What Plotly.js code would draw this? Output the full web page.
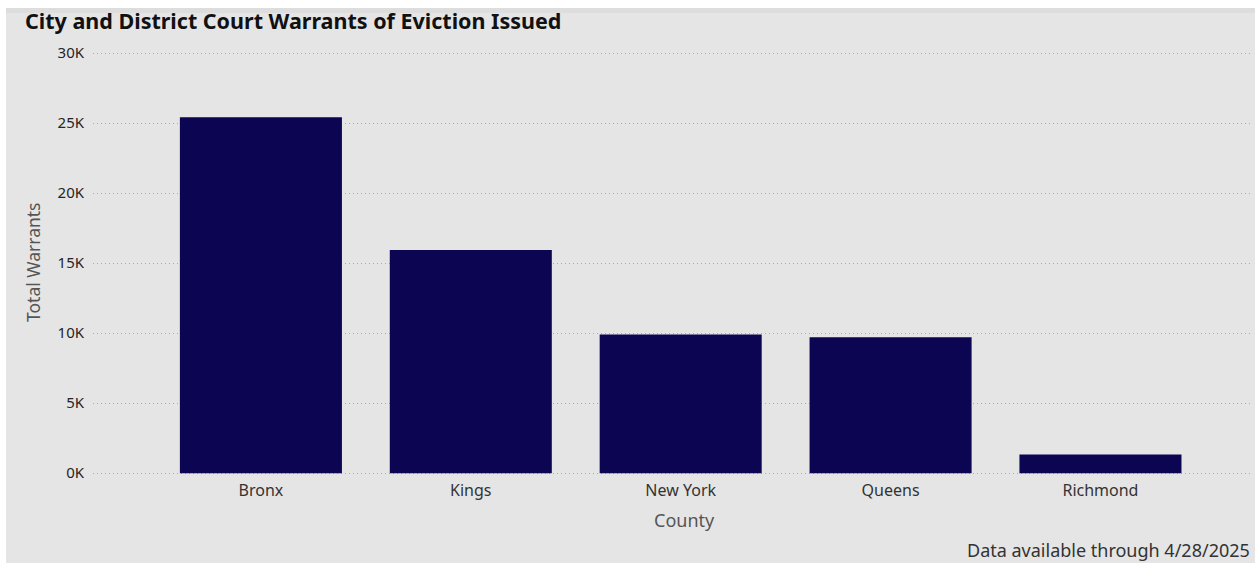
<!DOCTYPE html>
<html>
<head>
<meta charset="utf-8">
<script src="https://cdn.plot.ly/plotly-3.0.1.min.js"></script>
<style>
  html, body { margin: 0; padding: 0; background: #ffffff; width: 1255px; height: 563px; overflow: hidden; }
  #chart { width: 1255px; height: 563px; }
</style>
</head>
<body>
<div id="chart"></div>
<script>
// ---- data ----
const counties = ["Bronx", "Kings", "New York", "Queens", "Richmond"];
const totalWarrants = [25430, 15950, 9900, 9710, 1340];
const yTickValues = [0, 5000, 10000, 15000, 20000, 25000, 30000];
const yTickLabels = ["0K", "5K", "10K", "15K", "20K", "25K", "30K"];
const chartTitle = "City and District Court Warrants of Eviction Issued";
const xTitle = "County";
const yTitle = "Total Warrants";
const footnote = "Data available through 4/28/2025";

// ---- layout geometry (page pixels) ----
const W = 1255, H = 563;
const M = { l: 93, r: 3, t: 50, b: 87 };
const pw = W - M.l - M.r, ph = H - M.t - M.b;
const px = x => (x - M.l) / pw;          // page pixel -> paper x
const py = y => (H - M.b - y) / ph;      // page pixel -> paper y

const font = "'Noto Sans', 'Open Sans', 'DejaVu Sans', sans-serif";

const trace = {
  type: "bar",
  x: counties,
  y: totalWarrants,
  marker: { color: "#0c0552", line: { width: 0 } },
  hoverinfo: "x+y"
};

const layout = {
  width: W, height: H,
  margin: M,
  paper_bgcolor: "#ffffff",
  plot_bgcolor: "rgba(0,0,0,0)",
  showlegend: false,
  bargap: 0.228,
  font: { family: font, color: "#333333" },
  xaxis: {
    type: "category",
    range: [-0.800, 4.722],
    showgrid: false, zeroline: false, showline: false,
    ticks: "", ticklabelstandoff: 3,
    tickfont: { family: font, size: 16, color: "#333333" },
    fixedrange: true
  },
  yaxis: {
    range: [-200, 30228],
    tickvals: yTickValues,
    ticktext: yTickLabels,
    showgrid: true, gridcolor: "#a9a9a9", gridwidth: 1, griddash: "1px,3px",
    zeroline: false, showline: false,
    ticks: "", ticklabelstandoff: 8,
    tickfont: { family: font, size: 15, color: "#252525" },
    fixedrange: true
  },
  shapes: [
    { type: "rect", xref: "paper", yref: "paper",
      x0: px(6), x1: px(W), y0: py(8), y1: py(H),
      fillcolor: "#e5e5e5", line: { width: 0 }, layer: "below" },
    { type: "rect", xref: "paper", yref: "paper",
      x0: px(6), x1: px(W), y0: py(8), y1: py(13),
      fillcolor: "#dddddd", line: { width: 0 }, layer: "below" }
  ],
  annotations: [
    { text: "<b>" + chartTitle + "</b>", xref: "paper", yref: "paper",
      x: px(23), y: py(20), xanchor: "left", yanchor: "middle", showarrow: false,
      font: { family: font, size: 21.5, color: "#111111" } },
    { text: yTitle, xref: "paper", yref: "paper", textangle: -90,
      x: px(33), y: py(263), xanchor: "center", yanchor: "middle", showarrow: false,
      font: { family: font, size: 17.5, color: "#555555" } },
    { text: xTitle, xref: "paper", yref: "paper",
      x: px(684), y: py(520), xanchor: "center", yanchor: "middle", showarrow: false,
      font: { family: font, size: 18, color: "#555555" } },
    { text: footnote, xref: "paper", yref: "paper",
      x: px(1252), y: py(550), xanchor: "right", yanchor: "middle", showarrow: false,
      font: { family: font, size: 18, color: "#333333" } }
  ]
};

Plotly.newPlot("chart", [trace], layout, { displayModeBar: false, staticPlot: true });
</script>
</body>
</html>
